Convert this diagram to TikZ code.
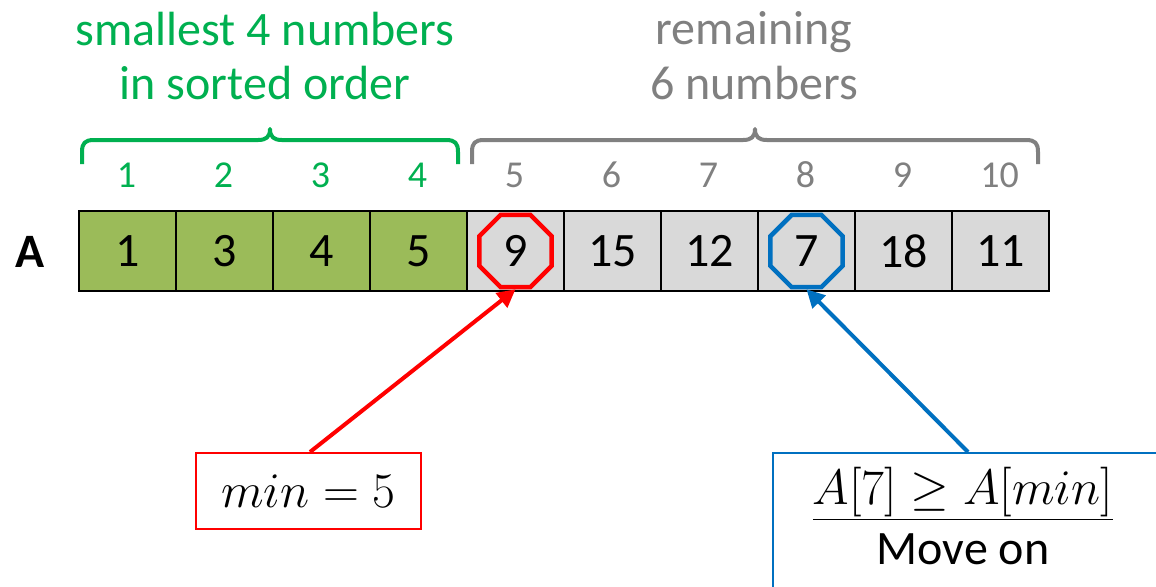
\documentclass[tikz,border=0pt]{standalone}
\usepackage{fontspec}
\setmainfont{Carlito}
\usetikzlibrary{shapes.geometric,arrows.meta,calc}
\definecolor{cgreen}{HTML}{00B050}
\definecolor{cgray}{HTML}{808080}
\definecolor{cfillg}{HTML}{9BBB59}
\definecolor{cfillgr}{HTML}{D9D9D9}
\definecolor{cred}{HTML}{FF0000}
\definecolor{cblue}{HTML}{0070C0}
\tikzset{
  cell/.style={draw=black, line width=1pt, minimum width=48.5pt, minimum height=40pt, inner sep=0pt, font=\fontsize{24}{28}\selectfont, anchor=north west},
  gcell/.style={cell, fill=cfillg},
  rcell/.style={cell, fill=cfillgr},
  idx/.style={font=\fontsize{19}{22}\selectfont},
  brace/.style={line width=2pt, line join=round},
  octo/.style={regular polygon, regular polygon sides=8, minimum size=39pt, line width=2.25pt, inner sep=0pt},
  arr/.style={line width=2pt, -{Triangle[length=9pt,width=9pt]}},
  toplabel/.style={font=\fontsize{24}{27.5}\selectfont, align=center},
}
\begin{document}
\begin{tikzpicture}[x=0.5pt,y=-0.5pt]
\clip (0,0) rectangle (1156,586);
\useasboundingbox (0,0) rectangle (1156,586);
% cells
\foreach \i/\v in {1/1,2/3,3/4,4/5}{
  \node[gcell] (c\i) at ({78+97*(\i-1)},210) {\v};
  \node[idx, text=cgreen] (i\i) at ({78+97*(\i-1)+48.5},175) {\i};
}
\foreach \i/\v in {5/9,6/15,7/12,8/7,9/18,10/11}{
  \node[rcell] (c\i) at ({78+97*(\i-1)},210) {\v};
  \node[idx, text=cgray] (i\i) at ({78+97*(\i-1)+48.5},175) {\i};
}
\node[font=\fontsize{24}{28}\bfseries] (lblA) at (30,252) {A};
% octagons
\node[octo, draw=cred] (o5) at (c5.center) {};
\node[octo, draw=cblue] (o8) at (c8.center) {};
% braces
\draw[brace, cgreen] (82,164) -- (82,152) .. controls (82,143) and (85,140) .. (94,140) -- (258,140) .. controls (266,140) and (270,137) .. (270,129) .. controls (270,137) and (274,140) .. (282,140) -- (446,140) .. controls (455,140) and (458,143) .. (458,152) -- (458,164);
\draw[brace, cgray] (472,164) -- (472,152) .. controls (472,143) and (475,140) .. (484,140) -- (743,140) .. controls (751,140) and (755,137) .. (755,129) .. controls (755,137) and (759,140) .. (767,140) -- (1026,140) .. controls (1035,140) and (1038,143) .. (1038,152) -- (1038,164);
% top labels
\node[toplabel, text=cgreen] (tg) at (265,56) {smallest 4 numbers\\in sorted order};
\node[toplabel, text=cgray] (tr) at (754,56) {remaining\\6 numbers};
% boxes
\node[draw=cred, line width=1pt, minimum width=112.5pt, minimum height=38pt, font=\fontsize{26}{30}\selectfont, anchor=north west] (rbox) at (195,452) {$min = 5$};
\node[draw=cblue, line width=1pt, minimum width=195pt, minimum height=75pt, anchor=north west, align=center, inner sep=0pt] (bbox) at (772,452) {};
\node[font=\fontsize{27}{30}\selectfont] (bt1) at (963,494) {\underline{$A[7] \geq A[min]$}};
\node[font=\fontsize{24}{28}\selectfont] (bt2) at (963,549) {Move on};
% arrows
\draw[arr, cred] (rbox.north -| 310,0) -- (o5.south);
\draw[arr, cblue] (bbox.north) -- (o8.south);
\end{tikzpicture}
\end{document}
